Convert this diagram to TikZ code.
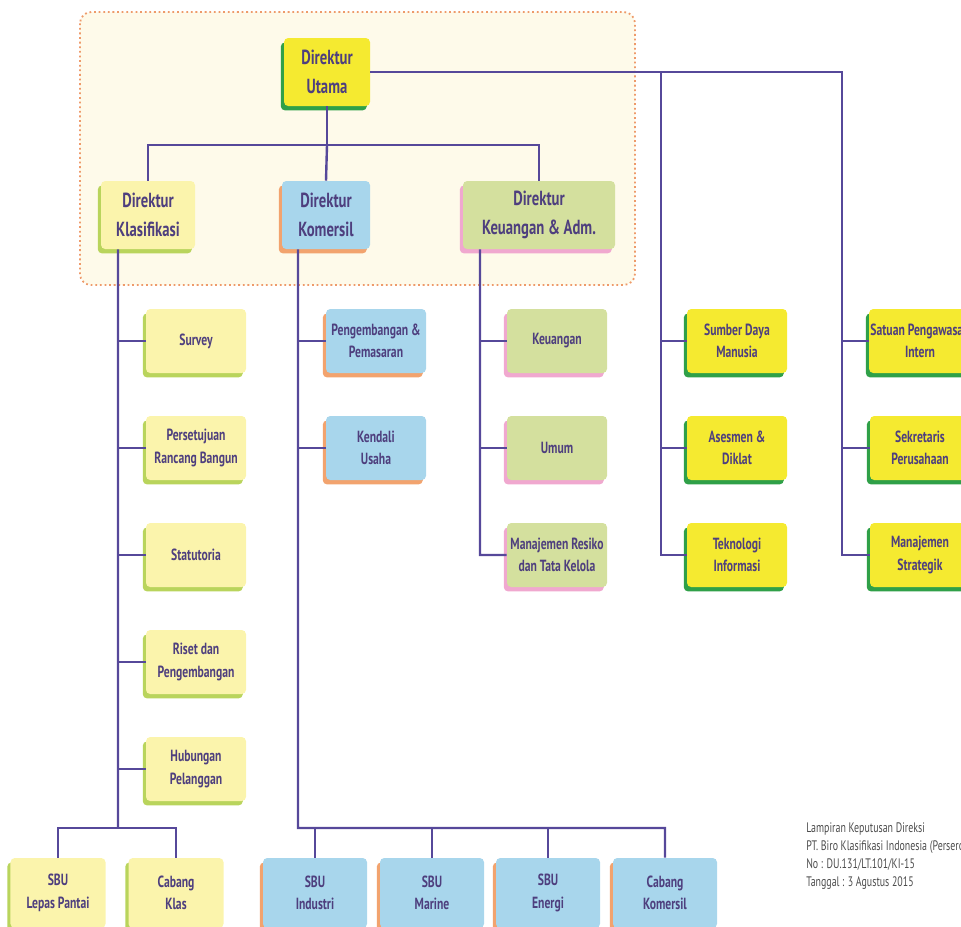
\documentclass[tikz,border=0pt]{standalone}
\usepackage{fontspec}
\setmainfont{PT Sans}[FakeStretch=0.72]
\usepackage{xcolor}
\usepackage{tikz}
\usetikzlibrary{positioning,shadows}

\definecolor{ink}{HTML}{4E3F7E}
\definecolor{wire}{HTML}{56489A}
\definecolor{sun}{HTML}{F5EA30}
\definecolor{leaf}{HTML}{2FA048}
\definecolor{cream}{HTML}{FBF4AC}
\definecolor{lime}{HTML}{B9D45C}
\definecolor{sky}{HTML}{A8D6EC}
\definecolor{peach}{HTML}{F2A36E}
\definecolor{sage}{HTML}{D4E09E}
\definecolor{rose}{HTML}{F0A8CF}
\definecolor{frame}{HTML}{EE9A6A}
\definecolor{frameback}{HTML}{FEFAEA}

\begin{document}
\begin{tikzpicture}[
            x=0.25mm, y=-0.25mm,
            box/.style={rectangle, rounded corners=3pt, minimum width=25mm, minimum height=16mm, inner sep=1pt, align=center, text=ink, font=\bfseries\fontsize{11.5}{16}\selectfont},
            under/.style={drop shadow={shadow xshift=-0.8mm, shadow yshift=-1.1mm, fill=#1, opacity=1}},
            dir/.style={font=\bfseries\fontsize{14.5}{21}\selectfont, minimum height=17mm},
            staf/.style={box, fill=sun, under=leaf},
            klas/.style={box, fill=cream, under=lime},
            kom/.style={box, fill=sky, under=peach},
            keu/.style={box, fill=sage, under=rose},
            link/.style={draw=wire, line width=0.6mm},
            note/.style={align=left, inner sep=0pt, text=black!70, font=\fontsize{9.8}{12.8}\selectfont}
        ]
            \path[use as bounding box, clip] (0,0) rectangle (961,926);

            % --- BOARD OF DIRECTORS AREA ---
            \draw[frame, fill=frameback, line width=0.45mm, dotted, rounded corners=8pt] (80,12) rectangle (635,285);

            \node[staf, dir, minimum width=21.5mm] (utm) at (327,72) {Direktur\\Utama};
            \node[klas, dir, minimum width=23.5mm] (kla) at (148,215) {Direktur\\Klasifikasi};
            \node[kom, dir, minimum width=22mm] (kom) at (326,215) {Direktur\\Komersil};
            \node[keu, dir, minimum width=38mm] (keu) at (539,215) {Direktur\\Keuangan \& Adm.};

            % --- KLASIFIKASI ---
            \node[klas] (sur) at (196,341) {Survey};
            \node[klas] (per) at (196,448) {Persetujuan\\Rancang Bangun};
            \node[klas] (sta) at (196,555) {Statutoria};
            \node[klas] (ris) at (196,662) {Riset dan\\Pengembangan};
            \node[klas] (hub) at (196,769) {Hubungan\\Pelanggan};
            \node[klas, minimum width=23.75mm, minimum height=17.5mm] (lpp) at (58,893) {SBU\\Lepas Pantai};
            \node[klas, minimum width=23.75mm, minimum height=17.5mm] (ckk) at (176,893) {Cabang\\Klas};

            % --- KOMERSIL ---
            \node[kom] (pgm) at (376,341) {Pengembangan \&\\Pemasaran};
            \node[kom] (kdl) at (376,448) {Kendali\\Usaha};
            \node[kom, minimum width=26mm, minimum height=17.5mm] (ind) at (315,893) {SBU\\Industri};
            \node[kom, minimum width=26mm, minimum height=17.5mm] (mar) at (432,893) {SBU\\Marine};
            \node[kom, minimum width=26mm, minimum height=17.5mm] (ene) at (548,893) {SBU\\Energi};
            \node[kom, minimum width=26mm, minimum height=17.5mm] (cko) at (665,893) {Cabang\\Komersil};

            % --- KEUANGAN & ADM. ---
            \node[keu] (uang) at (557,341) {Keuangan};
            \node[keu] (umu) at (557,448) {Umum};
            \node[keu] (mrk) at (557,555) {Manajemen Resiko\\dan Tata Kelola};

            % --- UNDER DIREKTUR UTAMA ---
            \node[staf] (sdm) at (737,341) {Sumber Daya\\Manusia};
            \node[staf] (asd) at (737,448) {Asesmen \&\\Diklat};
            \node[staf] (tin) at (737,555) {Teknologi\\Informasi};
            \node[staf] (spi) at (920,341) {Satuan Pengawasan\\Intern};
            \node[staf] (sek) at (920,448) {Sekretaris\\Perusahaan};
            \node[staf] (mst) at (920,555) {Manajemen\\Strategik};

            % --- CONNECTORS ---
            \coordinate (midbar) at (327,145);
            \coordinate (rt1) at (661,72);
            \coordinate (rt2) at (842,72);
            \coordinate (klbar) at (118,828);
            \coordinate (kobar) at (298,828);
            \coordinate (kebar) at (480,555);

            \draw[link] (utm.south) -- (midbar);
            \draw[link] (kla.north) |- (midbar) -| (keu.north);
            \draw[link] (kom.north) -- (midbar);

            \draw[link] (utm.east) -- (rt2) |- (mst.west);
            \draw[link] (rt1) |- (tin.west);
            \foreach \n in {sdm,asd} \draw[link] (\n.west) -- (\n.west -| rt1);
            \foreach \n in {spi,sek} \draw[link] (\n.west) -- (\n.west -| rt2);

            \draw[link] ([xshift=-7.5mm]kla.south) -- (klbar);
            \foreach \n in {sur,per,sta,ris,hub} \draw[link] (\n.west) -- (\n.west -| klbar);
            \draw[link] (lpp.north) |- (klbar) -| (ckk.north);

            \draw[link] ([xshift=-7mm]kom.south) -- (kobar) -| (cko.north);
            \foreach \n in {pgm,kdl} \draw[link] (\n.west) -- (\n.west -| kobar);
            \foreach \n in {ind,mar,ene} \draw[link] (\n.north) -- (\n.north |- kobar);

            \draw[link] ([xshift=-14.75mm]keu.south) -- (kebar) -- (mrk.west);
            \foreach \n in {uang,umu} \draw[link] (\n.west) -- (\n.west -| kebar);

            % --- NOTE ---
            \node[note, anchor=north west] (lamp) at (806,822) {Lampiran Keputusan Direksi\\PT. Biro Klasifikasi Indonesia (Persero)\\No : DU.131/LT.101/KI-15\\Tanggal : 3 Agustus 2015};

        \end{tikzpicture}
\end{document}
